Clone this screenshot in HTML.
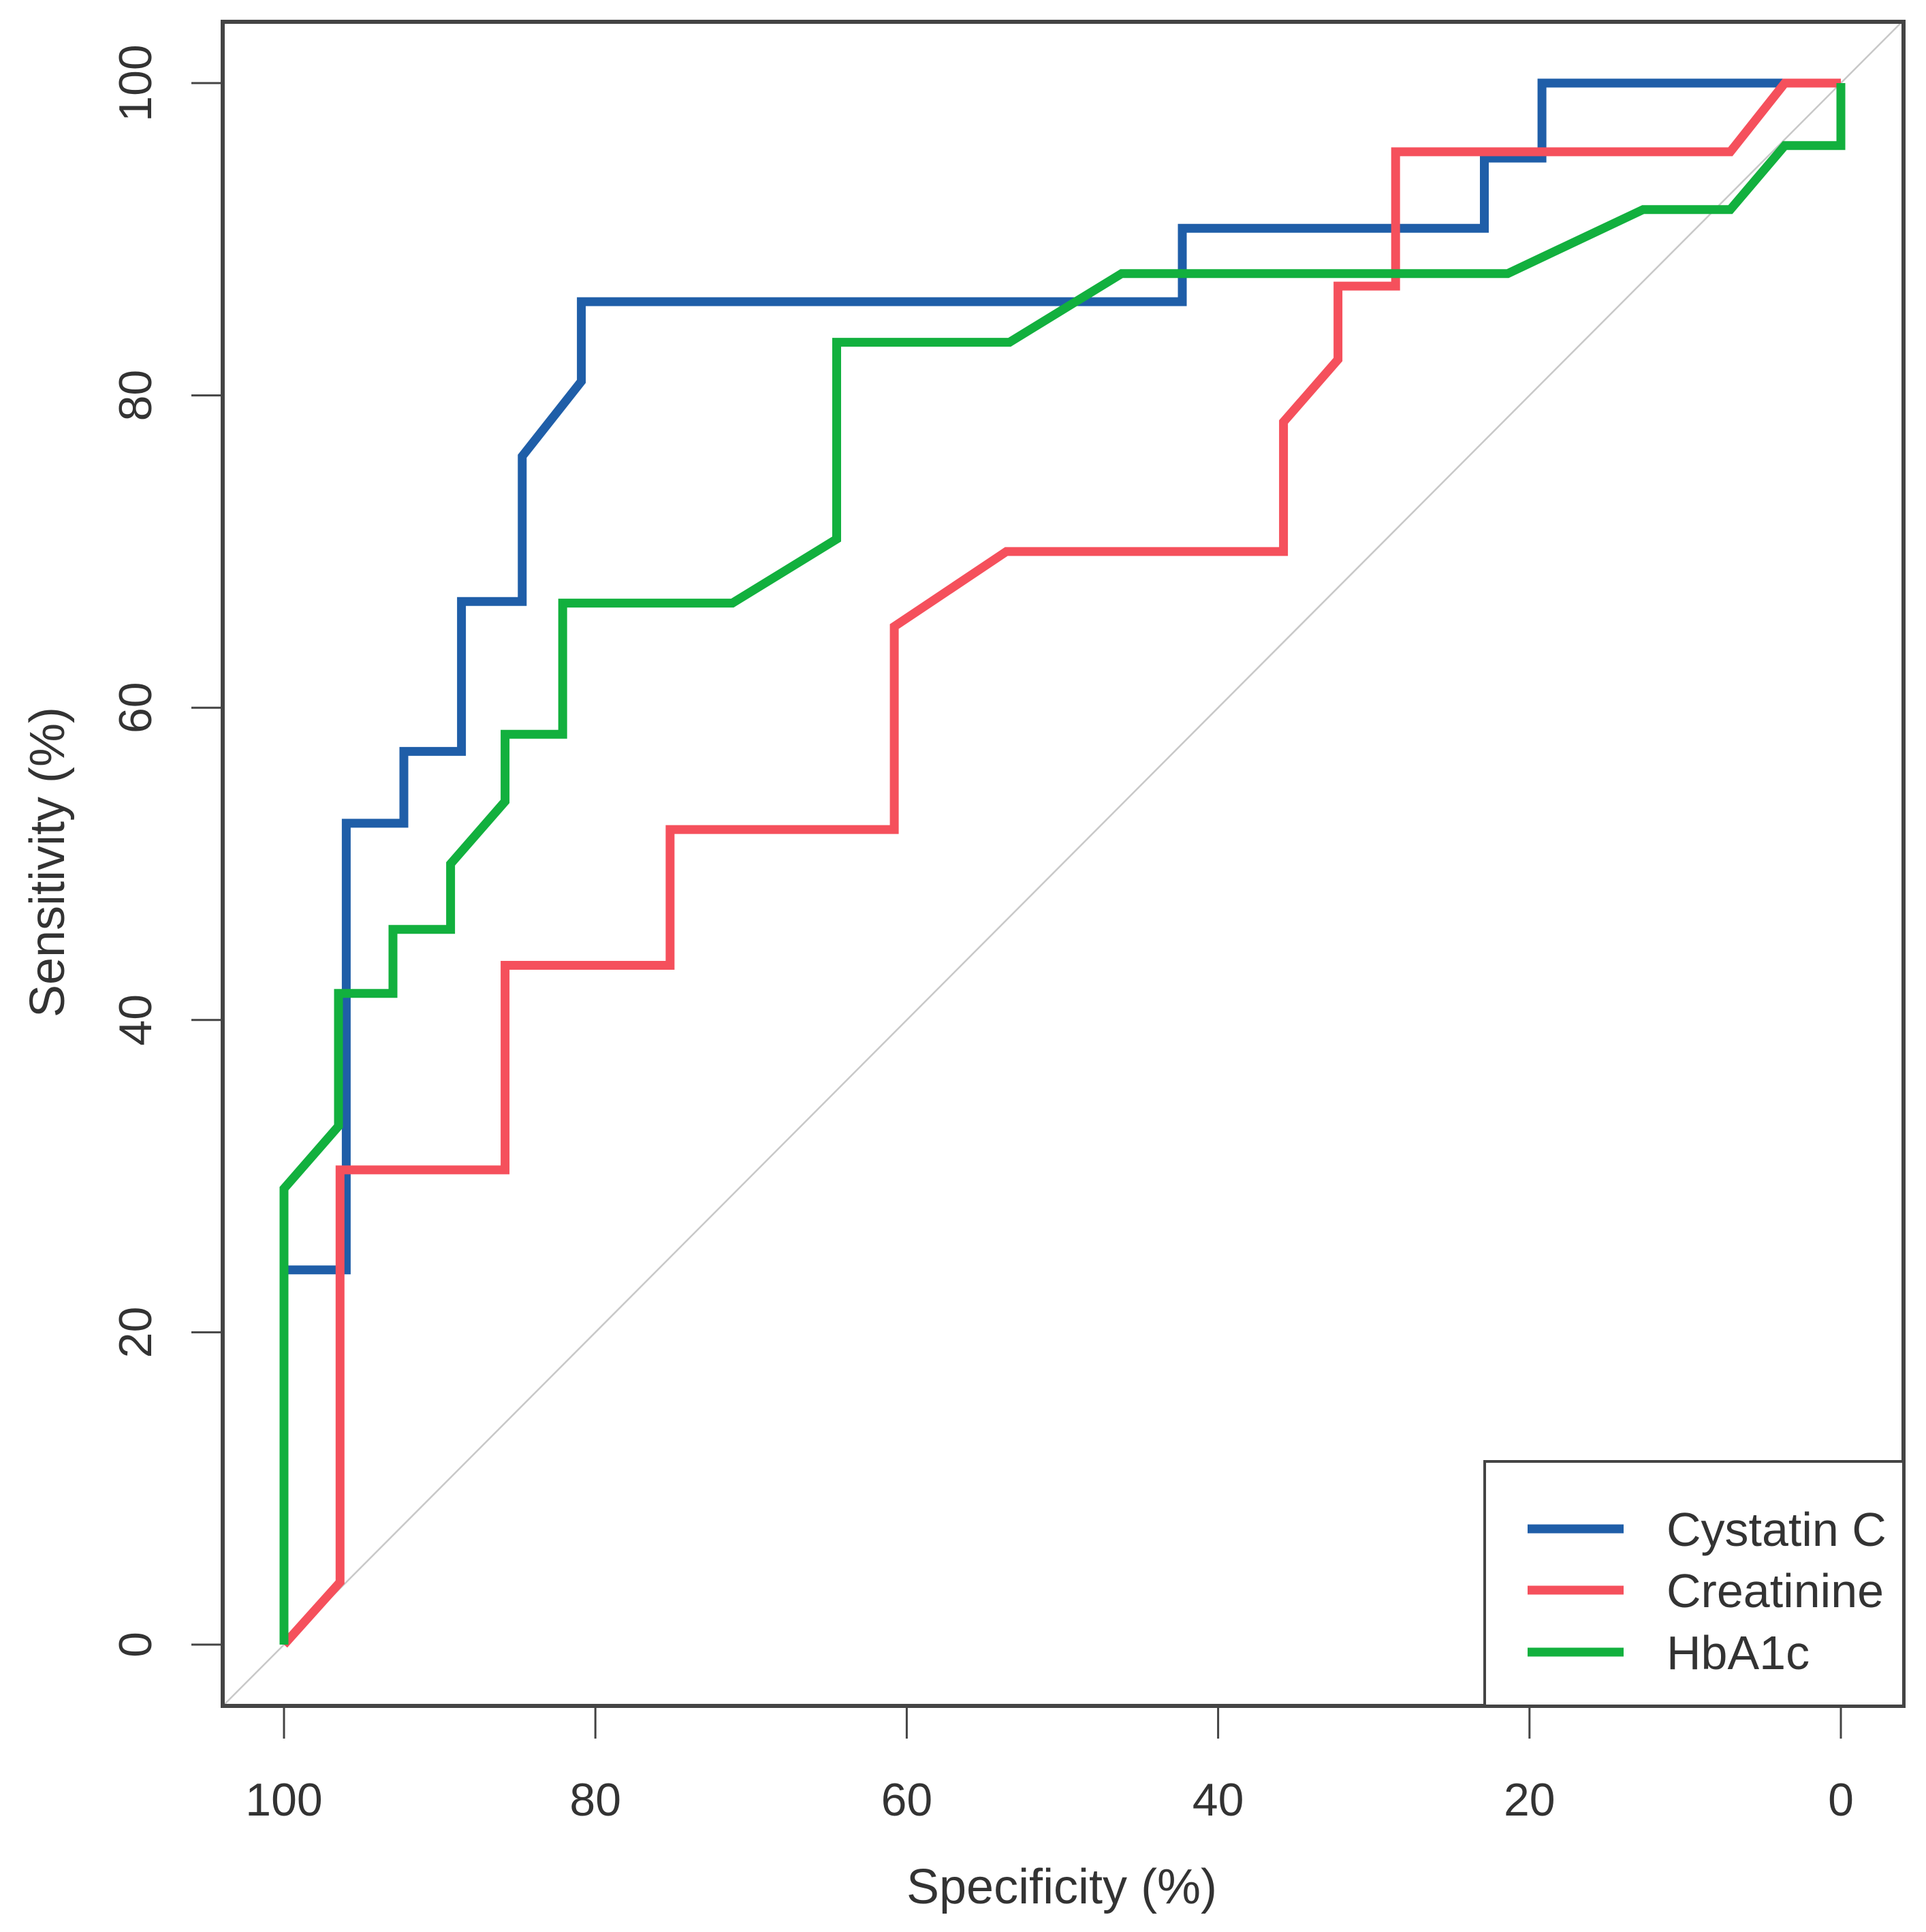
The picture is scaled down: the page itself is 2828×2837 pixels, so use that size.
<!DOCTYPE html>
<html><head><meta charset="utf-8">
<style>
html,body{margin:0;padding:0;background:#fff;}
svg{display:block;}
text{font-family:"Liberation Sans",sans-serif;fill:#333;}
</style></head>
<body>
<svg id="chart" width="2828" height="2837" viewBox="0 0 2828 2837" xmlns="http://www.w3.org/2000/svg">
<rect x="0" y="0" width="2828" height="2837" fill="#fff"/>
<g id="marks"></g>
<g id="axes"></g>
</svg>
<script>
const xTicks = [100, 80, 60, 40, 20, 0];
const yTicks = [0, 20, 40, 60, 80, 100];
const cysSpec = [100, 100, 96, 96, 92.3, 92.3, 88.6, 88.6, 84.7, 84.7, 80.9, 80.9, 42.3, 42.3, 22.9, 22.9, 19.2, 19.2, 0];
const cysSens = [0, 24, 24, 52.6, 52.6, 57.2, 57.2, 66.8, 66.8, 76.1, 80.9, 86, 86, 90.7, 90.7, 95.2, 95.2, 100, 100];
const creSpec = [100, 96.4, 96.4, 85.8, 85.8, 75.2, 75.2, 60.8, 60.8, 53.6, 35.8, 35.8, 32.3, 32.3, 28.6, 28.6, 7.1, 3.6, 0];
const creSens = [0, 4, 30.4, 30.4, 43.5, 43.5, 52.2, 52.2, 65.2, 70, 70, 78.3, 82.3, 87, 87, 95.6, 95.6, 100, 100];
const hbaSpec = [100, 100, 96.5, 96.5, 93, 93, 89.3, 89.3, 85.8, 85.8, 82.1, 82.1, 71.2, 64.5, 64.5, 53.4, 46.2, 21.4, 12.7, 7.1, 3.6, 0, 0];
const hbaSens = [0, 29.2, 33.2, 41.7, 41.7, 45.8, 45.8, 50, 54, 58.3, 58.3, 66.7, 66.7, 70.8, 83.4, 83.4, 87.8, 87.8, 91.9, 91.9, 96, 96, 100];
const seriesNames = ["Cystatin C", "Creatinine", "HbA1c"];
const seriesColors = ["#1f5ea8", "#f5505c", "#12b03e"];

const NS = "http://www.w3.org/2000/svg";
const plot = {left: 327, right: 2795, top: 32, bottom: 2505};
function xs(v){ return 417 + (100 - v) * (2703 - 417) / 100; }
function ys(v){ return 2415 - v * (2415 - 122) / 100; }
function mk(tag, attrs, parent){
  const e = document.createElementNS(NS, tag);
  for (const k in attrs) e.setAttribute(k, attrs[k]);
  parent.appendChild(e);
  return e;
}
const marks = document.getElementById('marks');
const axes = document.getElementById('axes');

const specL = 100 - (plot.left - 417) * 100 / (2703 - 417);
const specR = 100 - (plot.right - 417) * 100 / (2703 - 417);
const diag = mk('line', {x1: plot.left, y1: ys(100 - specL), x2: plot.right, y2: ys(100 - specR), stroke: '#c8c8c8', 'stroke-width': 2.5}, marks);



function drawSeries(spec, sens, color, name){
  const pts = spec.map((s, i) => xs(s).toFixed(1) + ',' + ys(sens[i]).toFixed(1)).join(' ');
  const pl = mk('polyline', {points: pts, fill: 'none', stroke: color, 'stroke-width': 13, 'stroke-linejoin': 'miter', 'stroke-linecap': 'butt'}, marks);
  
  
}
drawSeries(cysSpec, cysSens, seriesColors[0], 'cystatin-c-curve');
drawSeries(creSpec, creSens, seriesColors[1], 'creatinine-curve');
drawSeries(hbaSpec, hbaSens, seriesColors[2], 'hba1c-curve');

const frame = mk('rect', {x: plot.left, y: plot.top, width: plot.right - plot.left, height: plot.bottom - plot.top, fill: 'none', stroke: '#444', 'stroke-width': 6}, axes);



xTicks.forEach(v => {
  const t = mk('line', {x1: xs(v), y1: plot.bottom, x2: xs(v), y2: 2553, stroke: '#444', 'stroke-width': 3}, axes);
  
  
  const l = mk('text', {x: xs(v), y: 2666, 'font-size': 68, 'text-anchor': 'middle'}, axes);
  l.textContent = v;
  
  
});
yTicks.forEach(v => {
  const t = mk('line', {x1: plot.left, y1: ys(v), x2: 281, y2: ys(v), stroke: '#444', 'stroke-width': 3}, axes);
  
  
  const l = mk('text', {x: 0, y: 0, 'font-size': 68, 'text-anchor': 'middle', transform: 'translate(222,' + ys(v) + ') rotate(-90)'}, axes);
  l.textContent = v;
  
  
});

const xt = mk('text', {x: 1559, y: 2795, 'font-size': 72, 'text-anchor': 'middle'}, axes);
xt.textContent = 'Specificity (%)';


const yt = mk('text', {x: 0, y: 0, 'font-size': 72, 'text-anchor': 'middle', transform: 'translate(94,1266) rotate(-90)'}, axes);
yt.textContent = 'Sensitivity (%)';



const lg = mk('g', {}, axes);


const lbox = mk('rect', {x: 2180, y: 2146, width: plot.right - 2180, height: plot.bottom - 2146, fill: '#fff', stroke: '#444', 'stroke-width': 4}, lg);


const legY = [2245, 2335, 2426];
seriesNames.forEach((n, i) => {
  const ln = mk('line', {x1: 2243, y1: legY[i], x2: 2384, y2: legY[i], stroke: seriesColors[i], 'stroke-width': 13}, lg);
  
  
  const tx = mk('text', {x: 2447, y: legY[i] + 25, 'font-size': 70}, lg);
  tx.textContent = n;
  
  
});
</script>
</body></html>
